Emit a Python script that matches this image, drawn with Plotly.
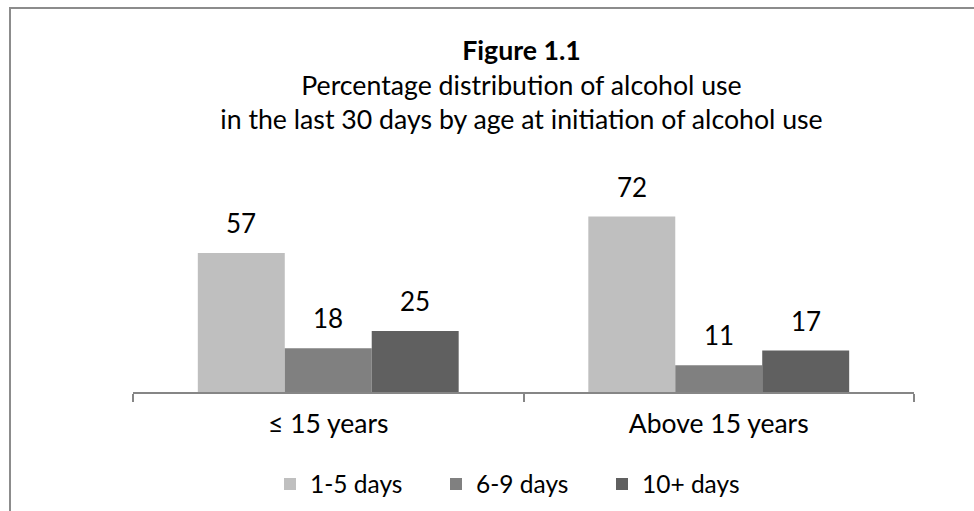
import plotly.graph_objects as go

# Age at initiation of alcohol use
categories = ["≤ 15 years", "Above 15 years"]

# Percentage distribution of days of use in the last 30 days
days_1_5 = [57, 72]
days_6_9 = [18, 11]
days_10_plus = [25, 17]

series_names = ["1-5 days", "6-9 days", "10+ days"]
series_values = [days_1_5, days_6_9, days_10_plus]
series_colors = ["#bfbfbf", "#808080", "#606060"]

FONT = "Lato"
W, H = 974, 511
L, R, T, B = 133, 60, 197, 119
plot_w = W - L - R
plot_h = H - T - B

fig = go.Figure()
for name, vals, color in zip(series_names, series_values, series_colors):
    fig.add_bar(x=categories, y=vals, name=name,
                marker=dict(color=color, line=dict(width=0)))

# value labels above each bar
bar_px = plot_w / len(categories) * (1 - 0.332) / len(series_names)
annotations = []
for i, vals in enumerate(series_values):
    for cat, v in zip(categories, vals):
        annotations.append(dict(
            x=cat, y=v, xref="x", yref="y", text=str(v), showarrow=False,
            xshift=(i - 1) * bar_px, yshift=30, yanchor="middle",
            font=dict(family=FONT, size=26, color="#000000")))

# outer chart border
shapes = [dict(type="rect", xref="paper", yref="paper",
               x0=(10 - L) / plot_w, x1=1.4,
               y0=-1.5, y1=(H - B - 8) / plot_h,
               line=dict(color="#8c8c8c", width=2), fillcolor="rgba(0,0,0,0)")]

fig.update_layout(
    width=W, height=H,
    margin=dict(l=L, r=R, t=T, b=B, autoexpand=False),
    paper_bgcolor="white", plot_bgcolor="white",
    barmode="group", bargap=0.332, bargroupgap=0,
    font=dict(family=FONT, size=24, color="#000000"),
    title=dict(
        text="<b>Figure 1.1</b><br>Percentage distribution of alcohol use<br>"
             "in the last 30 days by age at initiation of alcohol use",
        xref="paper", x=(521.5 - L) / plot_w, xanchor="center",
        yref="container", y=1 - 60 / H, yanchor="top",
        font=dict(family=FONT, size=26.7, color="#000000")),
    xaxis=dict(showline=True, linecolor="#868686", linewidth=1.5,
               ticks="outside", tickson="boundaries", ticklen=8,
               tickcolor="#868686", tickwidth=1.5, showgrid=False,
               ticklabelstandoff=7,
               tickfont=dict(family=FONT, size=26.5, color="#000000")),
    yaxis=dict(visible=False, range=[0, 80]),
    showlegend=True,
    legend=dict(orientation="h", x=(519 - L) / plot_w, xanchor="center",
                y=(H - B - 484) / plot_h, yanchor="middle",
                entrywidth=121, entrywidthmode="pixels",
                font=dict(family=FONT, size=24.5, color="#000000"),
                bgcolor="rgba(0,0,0,0)"),
    annotations=annotations,
    shapes=shapes,
)

fig.write_html("out.html")
